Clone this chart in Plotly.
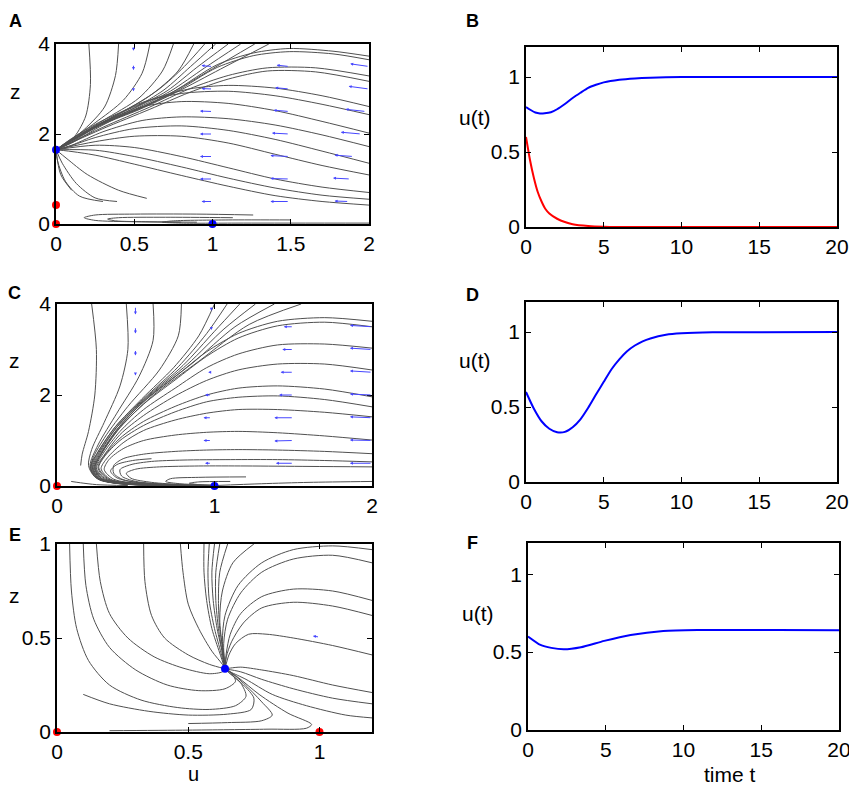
import plotly.graph_objects as go

# ---------------- data ----------------
# phase portrait A: streamlines as (u values, z values)
A_LINES = [
    ([0.21, 0.22, 0.19, 0.12, 0.04, 0.0], [4.0, 3.1, 2.4, 1.95, 1.72, 1.65]),
    ([0.40, 0.38, 0.31, 0.18, 0.06, 0.0], [4.0, 3.3, 2.6, 2.1, 1.78, 1.65]),
    ([0.60, 0.55, 0.43, 0.25, 0.08, 0.0], [4.0, 3.35, 2.75, 2.25, 1.84, 1.65]),
    ([0.75, 0.68, 0.53, 0.30, 0.10, 0.0], [4.0, 3.4, 2.8, 2.3, 1.87, 1.65]),
    ([0.88, 0.78, 0.60, 0.35, 0.12, 0.0], [4.0, 3.4, 2.85, 2.35, 1.9, 1.65]),
    ([0.95, 0.82, 0.66, 0.48, 0.27, 0.10, 0.0], [4.0, 3.5, 3.0, 2.6, 2.25, 1.9, 1.65]),
    ([1.02, 0.86, 0.69, 0.50, 0.28, 0.10, 0.0], [4.0, 3.5, 2.98, 2.58, 2.23, 1.89, 1.65]),
    ([1.10, 0.90, 0.71, 0.50, 0.28, 0.0], [4.0, 3.48, 2.96, 2.57, 2.22, 1.65]),
    ([1.18, 0.95, 0.73, 0.51, 0.28, 0.0], [4.0, 3.47, 2.95, 2.56, 2.22, 1.65]),
    ([1.27, 1.00, 0.75, 0.52, 0.28, 0.0], [4.0, 3.45, 2.94, 2.55, 2.21, 1.65]),
    ([1.36, 1.05, 0.77, 0.53, 0.29, 0.0], [4.0, 3.44, 2.93, 2.54, 2.2, 1.65]),
    ([2.0, 1.77, 1.49, 1.26, 1.03, 0.75, 0.52, 0.28, 0.0], [3.73, 3.84, 3.90, 3.80, 3.54, 2.94, 2.55, 2.21, 1.65]),
    ([2.0, 1.77, 1.49, 1.26, 1.03, 0.76, 0.52, 0.28, 0.0], [3.65, 3.78, 3.83, 3.74, 3.48, 2.93, 2.54, 2.2, 1.65]),
    ([2.0, 1.66, 1.35, 1.10, 0.85, 0.60, 0.30, 0.0], [3.29, 3.47, 3.47, 3.3, 3.0, 2.6, 2.15, 1.65]),
    ([2.0, 1.66, 1.35, 1.10, 0.85, 0.60, 0.30, 0.0], [3.17, 3.38, 3.40, 3.22, 2.92, 2.55, 2.12, 1.65]),
    ([2.0, 1.70, 1.40, 1.10, 0.85, 0.60, 0.30, 0.10, 0.0], [2.61, 2.85, 3.02, 3.08, 3.0, 2.75, 2.27, 1.84, 1.65]),
    ([2.0, 1.70, 1.40, 1.10, 0.80, 0.55, 0.30, 0.10, 0.0], [2.43, 2.66, 2.85, 2.95, 2.9, 2.7, 2.25, 1.82, 1.65]),
    ([2.0, 1.70, 1.40, 1.10, 0.80, 0.55, 0.30, 0.10, 0.0], [2.02, 2.28, 2.52, 2.68, 2.72, 2.6, 2.2, 1.8, 1.65]),
    ([2.0, 1.70, 1.40, 1.10, 0.80, 0.55, 0.30, 0.10, 0.0], [1.72, 1.98, 2.2, 2.34, 2.38, 2.3, 2.05, 1.75, 1.65]),
    ([2.0, 1.70, 1.40, 1.10, 0.80, 0.50, 0.25, 0.08, 0.0], [1.35, 1.62, 1.88, 2.08, 2.18, 2.12, 1.92, 1.72, 1.65]),
    ([2.0, 1.70, 1.40, 1.10, 0.80, 0.50, 0.25, 0.0], [1.09, 1.3, 1.55, 1.8, 1.95, 1.95, 1.83, 1.65]),
    ([2.0, 1.70, 1.40, 1.10, 0.80, 0.50, 0.25, 0.0], [0.70, 0.82, 1.0, 1.25, 1.5, 1.7, 1.75, 1.65]),
    ([2.0, 1.70, 1.40, 1.10, 0.80, 0.50, 0.25, 0.0], [0.55, 0.64, 0.8, 1.02, 1.27, 1.5, 1.64, 1.65]),
    ([2.0, 1.70, 1.40, 1.10, 0.80, 0.50, 0.25, 0.08, 0.0], [0.42, 0.5, 0.63, 0.84, 1.08, 1.33, 1.53, 1.62, 1.65]),
    ([0.39, 0.25, 0.13, 0.04, 0.0], [0.5, 0.58, 0.9, 1.35, 1.65]),
    ([0.58, 0.40, 0.20, 0.07, 0.0], [0.57, 0.75, 1.1, 1.45, 1.65]),
    ([0.30, 0.15, 0.06, 0.01, 0.0], [0.5, 0.62, 0.95, 1.4, 1.65]),
    ([0.10, 0.03, 0.0], [0.75, 1.1, 1.65]),
    ([1.26, 0.90, 0.50, 0.25, 0.18, 0.25, 0.50, 0.80], [0.2, 0.22, 0.22, 0.2, 0.14, 0.08, 0.05, 0.04]),
    ([1.13, 0.70, 0.40, 0.33, 0.38, 0.60, 0.90], [0.14, 0.15, 0.14, 0.11, 0.07, 0.05, 0.04]),
    ([1.50, 1.10, 0.75, 0.68, 0.80, 1.20, 2.0], [0.09, 0.09, 0.07, 0.04, 0.02, 0.02, 0.02]),
]

C_LINES = [
    ([0.22, 0.25, 0.24, 0.20, 0.16, 0.15], [4.0, 3.0, 2.0, 1.2, 0.7, 0.45]),
    ([0.09, 0.15, 0.25, 0.45], [0.1, 0.07, 0.03, 0.01]),
    ([0.44, 0.45, 0.40, 0.30, 0.22, 0.20, 0.24, 0.35, 0.60, 1.0], [4.0, 3.0, 2.2, 1.4, 0.8, 0.45, 0.2, 0.07, 0.02, 0.0]),
    ([0.61, 0.61, 0.52, 0.38, 0.26, 0.21, 0.25, 0.40, 0.70, 1.0], [4.0, 3.2, 2.4, 1.6, 0.9, 0.45, 0.18, 0.05, 0.01, 0.0]),
    ([0.79, 0.77, 0.65, 0.45, 0.30, 0.22, 0.26, 0.42, 1.0], [4.0, 3.3, 2.55, 1.75, 1.05, 0.5, 0.17, 0.05, 0.0]),
    ([1.00, 0.90, 0.74, 0.54, 0.37, 0.26, 0.21, 0.26, 0.40, 0.70, 1.0], [4.0, 3.3, 2.6, 1.92, 1.3, 0.75, 0.4, 0.15, 0.05, 0.01, 0.0]),
    ([1.08, 0.95, 0.77, 0.55, 0.37, 0.26, 0.215, 0.265, 0.41, 0.70, 1.0], [4.0, 3.35, 2.62, 1.92, 1.3, 0.74, 0.4, 0.15, 0.05, 0.01, 0.0]),
    ([1.16, 1.00, 0.80, 0.56, 0.38, 0.265, 0.22, 0.27, 0.42, 0.70, 1.0], [4.0, 3.4, 2.65, 1.93, 1.3, 0.73, 0.4, 0.15, 0.05, 0.01, 0.0]),
    ([1.26, 1.06, 0.83, 0.57, 0.38, 0.27, 0.225, 0.275, 0.43, 1.0], [4.0, 3.45, 2.68, 1.94, 1.29, 0.72, 0.4, 0.15, 0.05, 0.0]),
    ([1.38, 1.13, 0.86, 0.58, 0.39, 0.275, 0.23, 0.28, 0.44, 1.0], [4.0, 3.5, 2.7, 1.95, 1.28, 0.71, 0.4, 0.15, 0.05, 0.0]),
    ([1.55, 1.22, 0.90, 0.60, 0.40, 0.28, 0.235, 0.285, 0.45, 1.0], [4.0, 3.55, 2.74, 1.96, 1.28, 0.7, 0.4, 0.15, 0.05, 0.0]),
    ([2.0, 1.70, 1.40, 1.15, 0.95, 0.75, 0.55, 0.39, 0.28, 0.24, 0.29, 0.46, 1.0], [3.62, 3.7, 3.62, 3.35, 2.95, 2.4, 1.85, 1.28, 0.7, 0.4, 0.15, 0.05, 0.0]),
    ([2.0, 1.70, 1.40, 1.15, 0.95, 0.75, 0.55, 0.39, 0.28, 0.24, 0.29, 0.46, 1.0], [3.5, 3.6, 3.52, 3.25, 2.85, 2.33, 1.8, 1.25, 0.7, 0.4, 0.15, 0.05, 0.0]),
    ([2.0, 1.70, 1.40, 1.15, 0.95, 0.75, 0.55, 0.40, 0.29, 0.245, 0.30, 0.47, 1.0], [3.03, 3.12, 3.1, 2.9, 2.6, 2.15, 1.68, 1.2, 0.7, 0.4, 0.15, 0.05, 0.0]),
    ([2.0, 1.70, 1.40, 1.15, 0.95, 0.75, 0.55, 0.40, 0.30, 0.25, 0.31, 0.48, 1.0], [2.55, 2.68, 2.68, 2.55, 2.32, 1.98, 1.55, 1.13, 0.68, 0.4, 0.15, 0.05, 0.0]),
    ([2.0, 1.70, 1.40, 1.15, 0.95, 0.75, 0.55, 0.40, 0.30, 0.26, 0.32, 0.50, 1.0], [1.96, 2.13, 2.2, 2.15, 2.0, 1.75, 1.42, 1.05, 0.66, 0.4, 0.15, 0.05, 0.0]),
    ([2.0, 1.70, 1.40, 1.15, 0.95, 0.75, 0.55, 0.40, 0.30, 0.265, 0.33, 0.50, 1.0], [1.74, 1.9, 1.98, 1.95, 1.85, 1.63, 1.33, 1.0, 0.64, 0.4, 0.15, 0.05, 0.0]),
    ([2.0, 1.70, 1.40, 1.15, 0.95, 0.75, 0.55, 0.42, 0.32, 0.28, 0.34, 0.52, 1.0], [1.52, 1.62, 1.68, 1.68, 1.6, 1.45, 1.22, 0.95, 0.62, 0.38, 0.15, 0.05, 0.0]),
    ([2.0, 1.70, 1.40, 1.15, 0.95, 0.75, 0.55, 0.42, 0.33, 0.30, 0.36, 0.55, 1.0], [1.01, 1.1, 1.17, 1.2, 1.18, 1.12, 1.0, 0.82, 0.58, 0.36, 0.15, 0.05, 0.0]),
    ([2.0, 1.70, 1.40, 1.15, 0.95, 0.75, 0.55, 0.42, 0.36, 0.36, 0.42, 0.60, 1.0], [0.71, 0.76, 0.79, 0.8, 0.79, 0.76, 0.7, 0.6, 0.45, 0.28, 0.14, 0.05, 0.0]),
    ([2.0, 1.70, 1.40, 1.10, 0.80, 0.60, 0.47, 0.40, 0.41, 0.50, 0.70, 1.0], [0.53, 0.56, 0.58, 0.58, 0.57, 0.54, 0.47, 0.36, 0.22, 0.1, 0.04, 0.0]),
    ([2.0, 1.60, 1.20, 0.90, 0.65, 0.50, 0.44, 0.47, 0.60, 0.80, 1.0], [0.42, 0.43, 0.44, 0.44, 0.42, 0.37, 0.28, 0.17, 0.08, 0.03, 0.0]),
    ([0.60, 0.48, 0.38, 0.34, 0.38, 0.50, 0.70, 1.0], [0.6, 0.56, 0.47, 0.33, 0.18, 0.08, 0.03, 0.0]),
    ([1.20, 0.90, 0.72, 0.69, 0.78, 1.0], [0.2, 0.19, 0.16, 0.1, 0.05, 0.02]),
    ([1.10, 0.90, 0.84, 0.90, 1.0], [0.1, 0.09, 0.06, 0.03, 0.01]),
    ([2.0, 1.60, 1.30, 1.0], [0.1, 0.08, 0.05, 0.01]),
]

E_LINES = [
    ([0.048, 0.055, 0.075, 0.12, 0.20, 0.32, 0.46, 0.58, 0.68, 0.72, 0.70, 0.66, 0.64],
     [1.0, 0.75, 0.55, 0.38, 0.25, 0.17, 0.13, 0.12, 0.14, 0.19, 0.26, 0.31, 0.336]),
    ([0.10, 0.11, 0.14, 0.20, 0.30, 0.42, 0.54, 0.64, 0.68, 0.66, 0.64],
     [1.0, 0.78, 0.6, 0.45, 0.33, 0.25, 0.22, 0.23, 0.27, 0.32, 0.336]),
    ([0.15, 0.165, 0.20, 0.27, 0.37, 0.48, 0.58, 0.63, 0.64],
     [1.0, 0.8, 0.63, 0.5, 0.4, 0.34, 0.31, 0.32, 0.336]),
    ([0.33, 0.335, 0.36, 0.41, 0.50, 0.58, 0.64], [1.0, 0.8, 0.62, 0.5, 0.41, 0.36, 0.336]),
    ([0.47, 0.48, 0.50, 0.54, 0.59, 0.63, 0.64], [1.0, 0.85, 0.68, 0.55, 0.43, 0.36, 0.336]),
    ([0.56, 0.56, 0.57, 0.59, 0.62, 0.64], [1.0, 0.85, 0.7, 0.55, 0.42, 0.336]),
    ([0.58, 0.575, 0.58, 0.60, 0.625, 0.64], [1.0, 0.85, 0.7, 0.55, 0.42, 0.336]),
    ([0.60, 0.59, 0.595, 0.61, 0.63, 0.64], [1.0, 0.85, 0.7, 0.55, 0.42, 0.336]),
    ([0.62, 0.605, 0.605, 0.615, 0.63, 0.64], [1.0, 0.85, 0.7, 0.55, 0.42, 0.336]),
    ([0.65, 0.62, 0.615, 0.62, 0.635, 0.64], [1.0, 0.85, 0.7, 0.55, 0.42, 0.336]),
    ([0.75, 0.67, 0.63, 0.62, 0.63, 0.64], [1.0, 0.9, 0.75, 0.6, 0.45, 0.336]),
    ([1.2, 1.05, 0.90, 0.78, 0.69, 0.64, 0.63, 0.64], [0.97, 0.99, 0.97, 0.9, 0.78, 0.62, 0.48, 0.336]),
    ([1.2, 1.05, 0.90, 0.78, 0.70, 0.65, 0.635, 0.64], [0.9, 0.94, 0.92, 0.85, 0.74, 0.6, 0.47, 0.336]),
    ([1.2, 1.05, 0.90, 0.78, 0.70, 0.66, 0.645, 0.64], [0.7, 0.75, 0.76, 0.72, 0.63, 0.52, 0.42, 0.336]),
    ([1.2, 1.05, 0.90, 0.78, 0.71, 0.665, 0.645, 0.64], [0.62, 0.67, 0.69, 0.66, 0.58, 0.48, 0.4, 0.336]),
    ([1.2, 1.05, 0.90, 0.80, 0.73, 0.68, 0.655, 0.64], [0.41, 0.46, 0.5, 0.52, 0.52, 0.47, 0.41, 0.336]),
    ([1.2, 1.05, 0.90, 0.78, 0.70, 0.66, 0.64], [0.21, 0.25, 0.3, 0.33, 0.345, 0.34, 0.336]),
    ([1.2, 1.05, 0.90, 0.78, 0.70, 0.64], [0.15, 0.18, 0.23, 0.28, 0.32, 0.336]),
    ([1.2, 1.10, 0.95, 0.82, 0.72, 0.66, 0.64], [0.075, 0.09, 0.14, 0.2, 0.28, 0.32, 0.336]),
    ([0.20, 0.50, 0.80, 0.95, 0.97, 0.88, 0.77, 0.69, 0.64], [0.007, 0.01, 0.015, 0.02, 0.04, 0.1, 0.2, 0.29, 0.336]),
    ([0.50, 0.65, 0.78, 0.82, 0.78, 0.71, 0.66, 0.64], [0.045, 0.05, 0.06, 0.09, 0.16, 0.26, 0.32, 0.336]),
    ([0.10, 0.20, 0.35, 0.50, 0.65, 0.74, 0.75, 0.71, 0.66, 0.64], [0.2, 0.15, 0.11, 0.09, 0.095, 0.12, 0.18, 0.25, 0.31, 0.336]),
]

# quiver arrows (tail u, tail z, tip u, tip z)
A_Q_U0 = [1.0] * 7 + [1.49] * 7 + [2.0, 2.0, 1.98, 1.95, 1.9, 1.88, 1.87] + [0.495] * 3
A_Q_Z0 = [3.5, 3.0, 2.5, 2.0, 1.5, 1.0, 0.5] * 3 + [3.95, 3.55, 3.02]
A_Q_U1 = [0.93, 0.93, 0.92, 0.92, 0.92, 0.92, 0.93,
          1.41, 1.40, 1.39, 1.38, 1.37, 1.37, 1.37,
          1.88, 1.87, 1.85, 1.82, 1.78, 1.77, 1.78,
          0.495, 0.495, 0.495]
A_Q_Z1 = [3.52, 3.01, 2.51, 2.0, 1.5, 1.0, 0.5,
          3.53, 3.03, 2.53, 2.02, 1.52, 1.01, 0.5,
          3.56, 3.06, 2.55, 2.04, 1.53, 1.02, 0.51,
          3.85, 3.42, 2.95]

C_Q_U0 = [0.498] * 5 + [0.98] * 8 + [1.5] * 7 + [2.0] * 7
C_Q_Z0 = [3.95, 3.5, 3.0, 2.5, 2.0] + [3.95, 3.5, 3.0, 2.5, 2.0, 1.5, 1.0, 0.5] + [3.5, 3.0, 2.5, 2.0, 1.5, 1.0, 0.5] * 2
C_Q_U1 = [0.498] * 5 + [0.98, 0.98, 0.98, 0.96, 0.94, 0.93, 0.93, 0.94] + \
         [1.44, 1.43, 1.42, 1.41, 1.38, 1.38, 1.39] + [1.86, 1.86, 1.86, 1.86, 1.86, 1.86, 1.86]
C_Q_Z1 = [3.77, 3.35, 2.87, 2.43, 1.97] + [3.85, 3.43, 2.97, 2.5, 2.0, 1.5, 1.0, 0.5] + \
         [3.5, 3.0, 2.5, 2.0, 1.5, 0.99, 0.5] + [3.53, 3.03, 2.53, 2.02, 1.52, 1.01, 0.5]

E_Q_U0 = [1.0]
E_Q_Z0 = [0.505]
E_Q_U1 = [0.975]
E_Q_Z1 = [0.51]

# fixed points
A_RED_U, A_RED_Z = [0, 0], [0, 0.42]
A_BLUE_U, A_BLUE_Z = [0, 1], [1.65, 0]
C_RED_U, C_RED_Z = [0], [0]
C_BLUE_U, C_BLUE_Z = [1], [0]
E_RED_U, E_RED_Z = [0, 1], [0, 0]
E_BLUE_U, E_BLUE_Z = [0.64], [0.336]

# time courses
B_T_BLUE = [0, 0.3, 0.6, 0.9, 1.2, 1.6, 2.0, 2.5, 3.0, 3.5, 4.0, 4.5, 5, 6, 7, 8, 10, 20]
B_U_BLUE = [0.80, 0.78, 0.763, 0.757, 0.758, 0.765, 0.785, 0.82, 0.86, 0.895, 0.928, 0.948, 0.964,
            0.981, 0.99, 0.995, 1, 1]
B_T_RED = [0, 0.25, 0.5, 0.75, 1, 1.25, 1.5, 2, 2.5, 3, 4, 5, 6, 8, 20]
B_U_RED = [0.60, 0.45, 0.33, 0.235, 0.17, 0.12, 0.09, 0.055, 0.033, 0.019, 0.007, 0.002, 0.0005, 0, 0]
D_T = [0, 0.5, 1, 1.5, 2, 2.5, 3, 3.5, 4, 4.5, 5, 5.5, 6, 6.5, 7, 7.5, 8, 9, 10, 12, 20]
D_U = [0.6, 0.49, 0.405, 0.355, 0.332, 0.334, 0.365, 0.418, 0.495, 0.583, 0.668, 0.752, 0.818,
       0.872, 0.91, 0.938, 0.957, 0.981, 0.991, 0.998, 1]
F_T = [0, 0.8, 1.5, 2.3, 3.4, 4.9, 6.6, 8.7, 10.9, 13, 16, 20]
F_U = [0.60, 0.546, 0.527, 0.518, 0.531, 0.572, 0.61, 0.636, 0.642, 0.642, 0.641, 0.64]

# the page puts the plot 8px in from the corner, so the figure is 8px smaller
# and every pixel position below is shifted by that much
PAGE, OFF = (857, 786), 8
W, H = PAGE[0] - OFF, PAGE[1] - OFF
FONT = "Liberation Sans"
GRAY = "#505050"
QCOL = "#4646ff"


def px(x):
	return (x - OFF) / W


def py(y):
	return 1 - (y - OFF) / H


def stream_trace(lines, xa, ya):
	xs, ys = [], []
	for u, z in lines:
		xs += list(u) + [None]
		ys += list(z) + [None]
	return go.Scatter(x=xs, y=ys, mode="lines", xaxis=xa, yaxis=ya,
		line=dict(color=GRAY, width=1, shape="spline", smoothing=0.8),
		hoverinfo="skip", showlegend=False)


def dots(u, z, col, xa, ya):
	return go.Scatter(x=u, y=z, mode="markers", xaxis=xa, yaxis=ya, cliponaxis=False,
		marker=dict(color=col, size=8), showlegend=False)


def curve(t, u, col, xa, ya):
	return go.Scatter(x=t, y=u, mode="lines", xaxis=xa, yaxis=ya,
		line=dict(color=col, width=2, shape="spline", smoothing=0.6), showlegend=False)


plots = [
	stream_trace(A_LINES, "x", "y"),
	dots(A_RED_U, A_RED_Z, "#ff0000", "x", "y"),
	dots(A_BLUE_U, A_BLUE_Z, "#0000ff", "x", "y"),
	curve(B_T_BLUE, B_U_BLUE, "#0000ff", "x2", "y2"),
	curve(B_T_RED, B_U_RED, "#ff0000", "x2", "y2"),
	stream_trace(C_LINES, "x3", "y3"),
	dots(C_RED_U, C_RED_Z, "#ff0000", "x3", "y3"),
	dots(C_BLUE_U, C_BLUE_Z, "#0000ff", "x3", "y3"),
	curve(D_T, D_U, "#0000ff", "x4", "y4"),
	stream_trace(E_LINES, "x5", "y5"),
	dots(E_RED_U, E_RED_Z, "#ff0000", "x5", "y5"),
	dots(E_BLUE_U, E_BLUE_Z, "#0000ff", "x5", "y5"),
	curve(F_T, F_U, "#0000ff", "x6", "y6"),
]

# plot boxes in page pixels: left, right, top, bottom
boxes = {
	1: (56, 369, 44, 224),
	2: (526, 837, 47, 227),
	3: (57, 372, 304, 486),
	4: (526, 837, 302, 482),
	5: (57, 372, 544, 732),
	6: (528, 839, 543, 730),
}
xranges = {1: [0, 2], 2: [0, 20], 3: [0, 2], 4: [0, 20], 5: [0, 1.2], 6: [0, 20]}
yranges = {1: [0, 4], 2: [0, 1.2], 3: [0, 4], 4: [0, 1.2], 5: [0, 1], 6: [0, 1.2]}
xticks = {1: [0, 0.5, 1, 1.5, 2], 2: [0, 5, 10, 15, 20], 3: [0, 1, 2], 4: [0, 5, 10, 15, 20],
	5: [0, 0.5, 1], 6: [0, 5, 10, 15, 20]}
yticks = {1: [0, 2, 4], 2: [0, 0.5, 1], 3: [0, 2, 4], 4: [0, 0.5, 1], 5: [0, 0.5, 1], 6: [0, 0.5, 1]}

axis_style = dict(showline=True, linecolor="black", linewidth=1.6, mirror="ticks",
	ticks="inside", ticklen=5, tickcolor="black", showgrid=False, zeroline=False,
	automargin=False, tickfont=dict(family=FONT, size=21, color="black"), fixedrange=True)

layout = {}
for k, (l, r, t, b) in boxes.items():
	sx = "" if k == 1 else str(k)
	layout["xaxis" + sx] = dict(axis_style, domain=[px(l), px(r)], range=xranges[k],
		tickvals=xticks[k], anchor="y" + sx)
	layout["yaxis" + sx] = dict(axis_style, domain=[py(b), py(t)], range=yranges[k],
		tickvals=yticks[k], anchor="x" + sx)

texts = [
	("A", 15, 21, 18, True), ("B", 472, 21, 18, True), ("C", 14, 293, 18, True),
	("D", 472, 295, 18, True), ("E", 15, 535, 18, True), ("F", 472, 543, 18, True),
	("z", 15, 92, 21, False), ("z", 14, 360, 21, False), ("z", 14, 595, 21, False),
	("u(t)", 475, 118, 21, False), ("u(t)", 475, 360, 21, False), ("u(t)", 478, 613, 21, False),
	("u", 193, 774, 20, False), ("time t", 730, 774, 21, False),
]
annotations = []
for txt, x, y, size, bold in texts:
	annotations.append(dict(text="<b>%s</b>" % txt if bold else txt, x=px(x), y=py(y),
		xref="paper", yref="paper", showarrow=False, xanchor="center", yanchor="middle",
		font=dict(family=FONT, size=size, color="black")))

# blue quiver arrows
for sx, (u0s, z0s, u1s, z1s) in {"": (A_Q_U0, A_Q_Z0, A_Q_U1, A_Q_Z1),
		"3": (C_Q_U0, C_Q_Z0, C_Q_U1, C_Q_Z1),
		"5": (E_Q_U0, E_Q_Z0, E_Q_U1, E_Q_Z1)}.items():
	for u0, z0, u1, z1 in zip(u0s, z0s, u1s, z1s):
		annotations.append(dict(x=u1, y=z1, ax=u0, ay=z0, xref="x" + sx, yref="y" + sx,
			axref="x" + sx, ayref="y" + sx, text="", showarrow=True, arrowhead=2,
			arrowsize=0.6, arrowwidth=1, arrowcolor=QCOL, standoff=0))

graph_layout = go.Layout(
	width=W, height=H,
	margin=dict(l=0, r=0, t=0, b=0, autoexpand=False),
	paper_bgcolor="white", plot_bgcolor="white",
	showlegend=False,
	annotations=annotations,
	**layout
)
fig = go.Figure(plots, graph_layout)
fig.write_html("out.html")
